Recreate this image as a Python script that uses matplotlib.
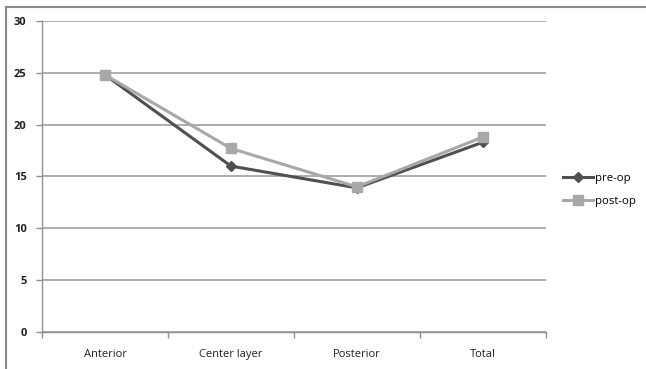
import numpy as np
import matplotlib.pyplot as plt
from matplotlib.lines import Line2D

categories = ["Anterior", "Center layer", "Posterior", "Total"]
pre_op = [24.8, 16.0, 13.9, 18.3]
post_op = [24.8, 17.7, 14.0, 18.8]
y_ticks = [0, 5, 10, 15, 20, 25, 30]

fig = plt.figure(figsize=(6.46, 3.69), dpi=100)
ax = fig.add_axes([0.065, 0.1003, 0.78, 0.843])

x = np.arange(len(categories)) + 0.5
ax.plot(x, pre_op, color="#505050", lw=2.2, marker="D", ms=5, label="pre-op", zorder=3)
ax.plot(x, post_op, color="#a8a8a8", lw=2.2, marker="s", ms=7, label="post-op", zorder=4)

ax.set_xlim(0, len(categories))
ax.set_ylim(0, 30)
ax.set_yticks(y_ticks)
ax.set_xticks(np.arange(len(categories) + 1))
ax.set_xticklabels([])
ax.set_xticks(x, minor=True)
ax.set_xticklabels(categories, minor=True, fontsize=8, family="Open Sans", color="#202020")
ax.tick_params(axis="x", which="minor", length=0, pad=12)
ax.tick_params(axis="x", which="major", length=4, color="#909090", width=1)
ax.tick_params(axis="y", length=4, color="#909090", width=1, pad=7)
for lab in ax.get_yticklabels():
    lab.set_fontsize(8)
    lab.set_fontweight("bold")
    lab.set_family("Open Sans")
    lab.set_color("#202020")

ax.yaxis.grid(True, color="#a0a0a0", lw=1.2)
ax.set_axisbelow(True)
for side in ["top", "right"]:
    ax.spines[side].set_visible(False)
ax.spines["left"].set_color("#909090")
ax.spines["bottom"].set_color("#909090")
ax.spines["left"].set_linewidth(1)
ax.spines["bottom"].set_linewidth(1)

leg = fig.legend(loc="center left", bbox_to_anchor=(0.856, 0.485), frameon=False,
                 prop={"family": "Open Sans", "size": 8.2}, handlelength=2.6,
                 labelspacing=1.0, handletextpad=0.2)

# outer chart frame
fig.add_artist(Line2D([0.009, 0.009], [0, 0.98], transform=fig.transFigure, color="#8a8a8a", lw=1.5))
fig.add_artist(Line2D([0.009, 1], [0.98, 0.98], transform=fig.transFigure, color="#8a8a8a", lw=1.5))

fig.savefig("out.png", dpi=100)
